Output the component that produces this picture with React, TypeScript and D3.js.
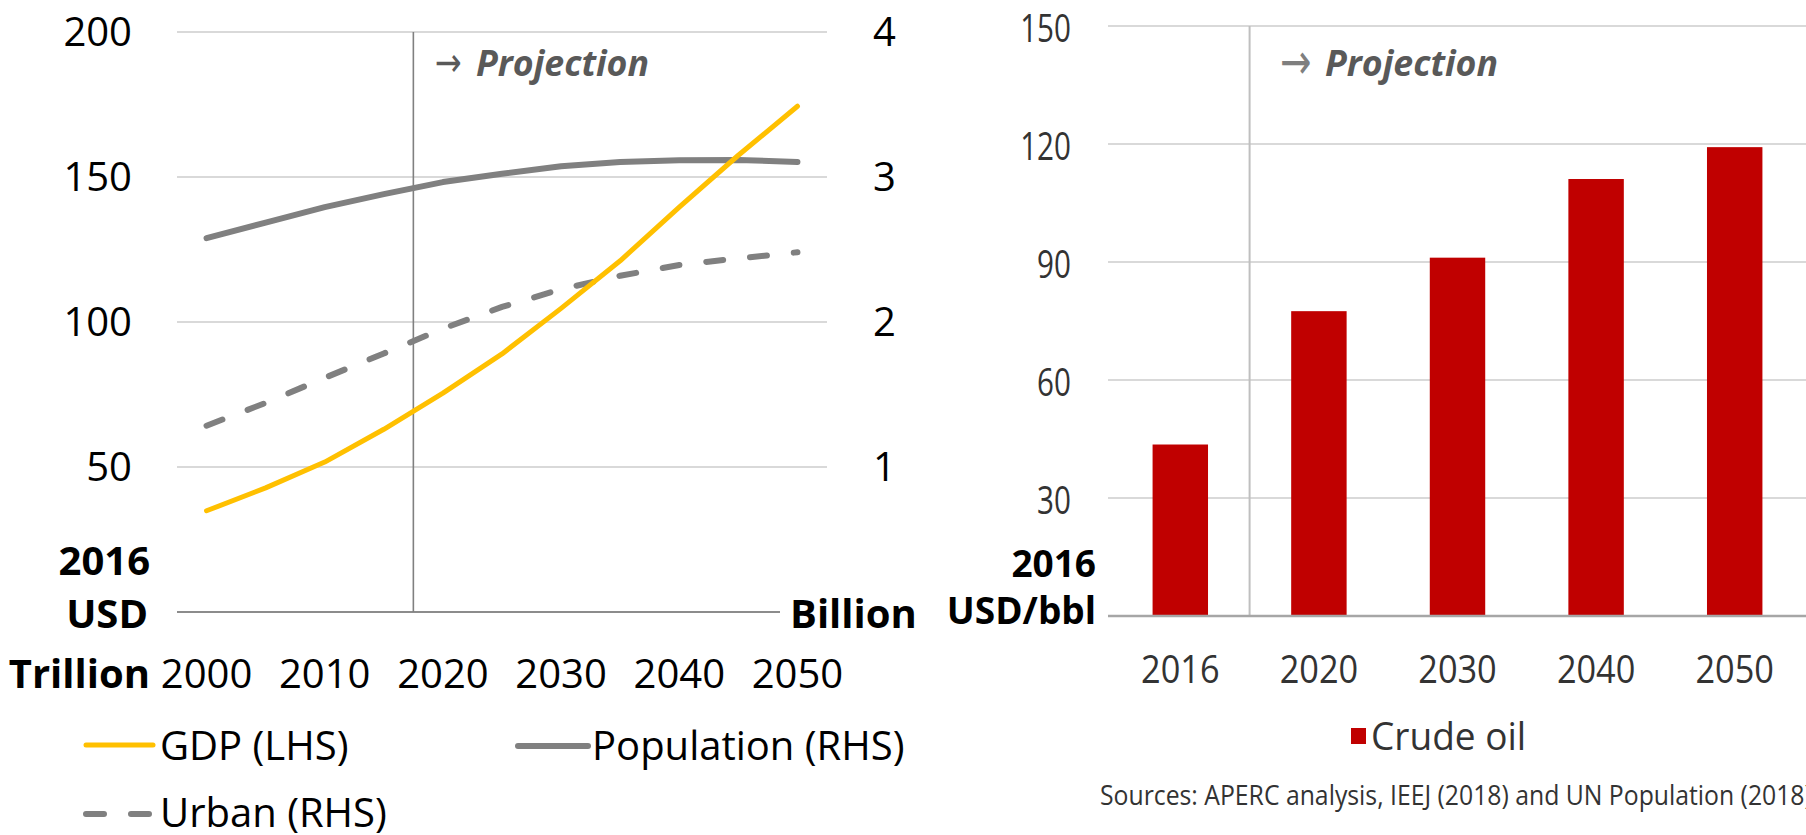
import React from "react";
import * as d3 from "d3";

// ---------- data ----------
const years = [2000, 2005, 2010, 2015, 2020, 2025, 2030, 2035, 2040, 2045, 2050];
const xTickYears = [2000, 2010, 2020, 2030, 2040, 2050];
const gdp = [34.9, 42.8, 51.7, 63.0, 75.5, 89.0, 104.7, 121.1, 139.6, 157.5, 174.4];
const population = [2.578, 2.686, 2.792, 2.882, 2.965, 3.023, 3.074, 3.104, 3.115, 3.118, 3.104];
const urban = [1.285, 1.442, 1.615, 1.783, 1.954, 2.104, 2.226, 2.319, 2.393, 2.439, 2.481];
const leftTicks = [50, 100, 150, 200];
const rightTicks = [1, 2, 3, 4];

const oilYears = ["2016", "2020", "2030", "2040", "2050"];
const crudeOil = [43.6, 77.5, 91.1, 111.1, 119.2];
const oilTicks = [30, 60, 90, 120, 150];

const FONT = "'Open Sans', 'Noto Sans', sans-serif";

function T(props: any) {
  const { x, cy, size, anchor = "start", weight = 400, italic = false, fill = "#000", sx = 1, family = FONT, children } = props;
  const y = cy + 0.36 * size;
  return (
    <text
      transform={`translate(${x},${y}) scale(${sx},1)`}
      textAnchor={anchor}
      fontFamily={family}
      fontSize={size}
      fontWeight={weight}
      fontStyle={italic ? "italic" : "normal"}
      fill={fill}
    >
      {children}
    </text>
  );
}

export default function App() {
  // ----- left chart scales -----
  const xL = d3.scalePoint<number>().domain(years).range([177, 827]).padding(0.5);
  const yL = d3.scaleLinear().domain([0, 200]).range([612, 32]);
  const yR = d3.scaleLinear().domain([0, 4]).range([612, 32]);
  const projX = 177 + (650 / 11) * 4;

  const lineL = d3.line<number>().x((_, i) => xL(years[i]) as number).y((d) => yL(d));
  const lineR = d3.line<number>().x((_, i) => xL(years[i]) as number).y((d) => yR(d));

  // ----- right chart scales -----
  const xB = d3.scaleBand<string>().domain(oilYears).range([1111, 1804]).paddingInner(0.6).paddingOuter(0.3);
  const yB = d3.scaleLinear().domain([0, 150]).range([616, 26]);
  const projB = 1111 + xB.step();

  return (
    <svg width={1806} height={835} style={{ position: "absolute", left: 0, top: 0, background: "#fff" }}>
      <rect x={0} y={0} width={1806} height={835} fill="#fff" />

      {/* ===== LEFT CHART ===== */}
      {leftTicks.map((t) => (
        <line key={"gl" + t} x1={177} x2={827} y1={yL(t)} y2={yL(t)} stroke="#d9d9d9" strokeWidth={2} />
      ))}
      <line x1={177} x2={780} y1={yL(0)} y2={yL(0)} stroke="#8c8c8c" strokeWidth={2} />
      <line x1={projX} x2={projX} y1={yL(200)} y2={yL(0)} stroke="#808080" strokeWidth={1.6} />

      {leftTicks.map((t) => (
        <T key={"lt" + t} x={132} cy={yL(t)} size={40} anchor="end">{t}</T>
      ))}
      {rightTicks.map((t) => (
        <T key={"rt" + t} x={873} cy={yR(t)} size={40}>{t}</T>
      ))}
      {xTickYears.map((y) => (
        <T key={"xt" + y} x={xL(y)} cy={674} size={40} anchor="middle">{y}</T>
      ))}
      <T x={150} cy={561} size={40} anchor="end" weight={700}>2016</T>
      <T x={148} cy={614} size={40} anchor="end" weight={700}>USD</T>
      <T x={150} cy={674} size={40} anchor="end" weight={700}>Trillion</T>
      <T x={790} cy={614} size={40} weight={700}>Billion</T>

      <T x={435} cy={62} size={40} fill="#595959" family="'DejaVu Sans', sans-serif" sx={0.8}>→</T>
      <T x={476} cy={63} size={35} weight={700} italic fill="#595959" sx={1.02}>Projection</T>

      <path d={lineR(population) || ""} fill="none" stroke="#808080" strokeWidth={6} strokeLinecap="round" strokeLinejoin="round" />
      <path d={lineR(urban) || ""} fill="none" stroke="#808080" strokeWidth={6} strokeLinecap="round" strokeDasharray="17 27" />
      <path d={lineL(gdp) || ""} fill="none" stroke="#ffc000" strokeWidth={5} strokeLinecap="round" strokeLinejoin="round" />

      {/* legend */}
      <line x1={86} x2={153} y1={745} y2={745} stroke="#ffc000" strokeWidth={5} strokeLinecap="round" />
      <T x={160} cy={746} size={40}>GDP (LHS)</T>
      <line x1={518} x2={588} y1={746} y2={746} stroke="#808080" strokeWidth={6} strokeLinecap="round" />
      <T x={592} cy={746} size={40}>Population (RHS)</T>
      <line x1={86} x2={152} y1={814} y2={814} stroke="#808080" strokeWidth={6} strokeLinecap="round" strokeDasharray="18 27" />
      <T x={160} cy={813} size={40}>Urban (RHS)</T>

      {/* ===== RIGHT CHART ===== */}
      {oilTicks.map((t) => (
        <line key={"gr" + t} x1={1108} x2={1806} y1={yB(t)} y2={yB(t)} stroke="#d9d9d9" strokeWidth={2} />
      ))}
      <line x1={projB} x2={projB} y1={yB(150)} y2={yB(0)} stroke="#bfbfbf" strokeWidth={2} />
      {crudeOil.map((v, i) => (
        <rect key={"b" + i} x={xB(oilYears[i])} y={yB(v)} width={xB.bandwidth()} height={yB(0) - yB(v)} fill="#c00000" />
      ))}
      <line x1={1108} x2={1806} y1={yB(0)} y2={yB(0)} stroke="#a6a6a6" strokeWidth={2.5} />

      {oilTicks.map((t) => (
        <T key={"ot" + t} x={1071} cy={yB(t) + 2} size={39} anchor="end" sx={0.76} fill="#333333">{t}</T>
      ))}
      {oilYears.map((y) => (
        <T key={"ox" + y} x={(xB(y) as number) + xB.bandwidth() / 2} cy={669} size={39} anchor="middle" sx={0.88} fill="#333333">{y}</T>
      ))}
      <T x={1096} cy={564} size={37} anchor="end" weight={700}>2016</T>
      <T x={1096} cy={611} size={37} anchor="end" weight={700}>USD/bbl</T>

      <T x={1280} cy={61} size={50} fill="#7f7f7f" family="'DejaVu Sans', sans-serif" sx={0.75}>→</T>
      <T x={1325} cy={63} size={35} weight={700} italic fill="#595959" sx={1.02}>Projection</T>

      <rect x={1351} y={728} width={15} height={16} fill="#c00000" />
      <T x={1371} cy={736} size={39} fill="#333333" sx={0.95}>Crude oil</T>
      <T x={1100} cy={795} size={28} fill="#333333" sx={0.885}>Sources: APERC analysis, IEEJ (2018) and UN Population (2018)</T>
    </svg>
  );
}
